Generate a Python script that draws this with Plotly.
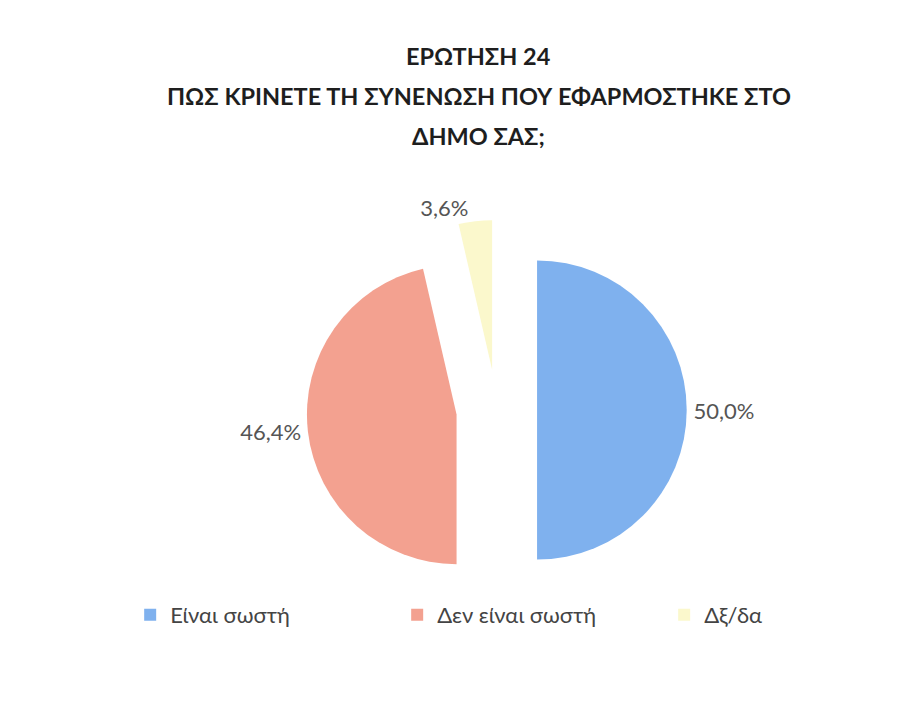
import plotly.graph_objects as go

labels = ["Είναι σωστή", "Δεν είναι σωστή", "Δξ/δα"]
values = [50.0, 46.4, 3.6]
colors = ["#7fb1ee", "#f3a190", "#fbf8cc"]
text_labels = [f"{v:.1f}".replace(".", ",") + "%" for v in values]
title_lines = ["ΕΡΩΤΗΣΗ 24", "ΠΩΣ ΚΡΙΝΕΤΕ ΤΗ ΣΥΝΕΝΩΣΗ ΠΟΥ ΕΦΑΡΜΟΣΤΗΚΕ ΣΤΟ", "ΔΗΜΟ ΣΑΣ;"]

FONT = "Lato, 'Open Sans', sans-serif"

fig = go.Figure(go.Pie(
    labels=labels,
    values=values,
    text=text_labels,
    textinfo="text",
    textposition="outside",
    sort=False,
    direction="clockwise",
    rotation=0,
    pull=[0.27, 0.27, 0.27],
    marker=dict(colors=colors, line=dict(color="white", width=0)),
    textfont=dict(family=FONT, size=22, color="#555555"),
    domain=dict(x=[0.09, 0.99], y=[(728 - 592) / 728, (728 - 212) / 728]),
    hoverinfo="label+percent",
))

for i, line in enumerate(title_lines):
    fig.add_annotation(
        text=line, xref="paper", yref="paper",
        x=0.52, y=(728 - 48 - 40 * i) / 728,
        xanchor="center", yanchor="middle", showarrow=False,
        font=dict(family=FONT, size=23.5, color="#1e1e1e", weight="bold"),
    )

fig.update_layout(
    width=905, height=728,
    paper_bgcolor="white",
    plot_bgcolor="white",
    margin=dict(t=0, b=0, l=0, r=0, autoexpand=False),
    legend=dict(
        orientation="h",
        x=0.135, xanchor="left",
        y=(728 - 586) / 728, yanchor="top",
        entrywidth=222,
        font=dict(family=FONT, size=22, color="#444444"),
    ),
    showlegend=True,
)

fig.write_html("out.html")
